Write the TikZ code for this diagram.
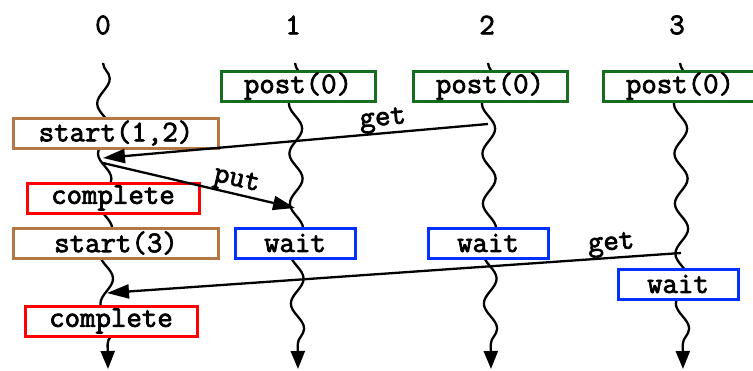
\documentclass[tikz,border=0pt]{standalone}
\usepackage{fontspec}
\setmonofont{Latin Modern Mono}[FakeBold=2.5]
\usetikzlibrary{decorations.pathmorphing,arrows.meta}
\begin{document}
\begin{tikzpicture}[x=1pt,y=-1pt,
  lbl/.style={font=\ttfamily\bfseries\fontsize{30}{30}\selectfont},
  box/.style={lbl,draw,line width=3pt,fill=white,minimum height=30pt,inner sep=0pt},
  grn/.style={box,draw={rgb,255:red,20;green,110;blue,30},minimum width=154pt},
  brn/.style={box,draw={rgb,255:red,180;green,120;blue,70},minimum width=205pt},
  redb/.style={box,draw=red,minimum width=172pt},
  blu/.style={box,draw={rgb,255:red,0;green,50;blue,255},minimum width=120pt},
  wavy/.style={line width=2.3pt,decorate,decoration={snake,amplitude=6.5pt,segment length=50pt,post length=16pt},
    -{Triangle[width=14pt,length=18pt]}},
  msg/.style={line width=2.3pt,-{Triangle[width=14pt,length=22pt]}}]
\useasboundingbox (0,0) rectangle (753,370);
% headers
\node[lbl] (h0) at (103,25) {0};
\node[lbl] (h1) at (293,25) {1};
\node[lbl] (h2) at (487,25) {2};
\node[lbl] (h3) at (677,25) {3};
% line ends
\coordinate (t0) at (103,63); \coordinate (b0) at (108,369);
\coordinate (t1) at (295,63); \coordinate (b1) at (298,369);
\coordinate (t2) at (488,63); \coordinate (b2) at (491,369);
\coordinate (t3) at (680,63); \coordinate (b3) at (683,369);
\draw[wavy] (t0) -- (b0);
\draw[wavy] (t1) -- (b1);
\draw[wavy] (t2) -- (b2);
\draw[wavy] (t3) -- (b3);
% boxes
\node[grn] (p1) at (298,86) {post(0)};
\node[grn] (p2) at (490,86) {post(0)};
\node[grn] (p3) at (680,86) {post(0)};
\node[brn] (s12) at (116,133) {start(1,2)};
\node[redb] (c1) at (113,198) {complete};
\node[brn] (s3) at (116,243) {start(3)};
\node[blu] (w1) at (295,243) {wait};
\node[blu] (w2) at (488,243) {wait};
\node[blu] (w3) at (678,284) {wait};
\node[redb] (c2) at (111,321) {complete};
% messages
\coordinate (g1s) at (488,124); \coordinate (g1e) at (103,158);
\coordinate (pus) at (103,163); \coordinate (pue) at (295,208);
\coordinate (g2s) at (681,253); \coordinate (g2e) at (107,293);
\draw[msg] (g1s) -- node[lbl,sloped,above,pos=0.27,inner sep=0pt] {get} (g1e);
\draw[msg] (pus) -- node[lbl,sloped,above,pos=0.68,inner sep=0pt] {put} (pue);
\draw[msg] (g2s) -- node[lbl,sloped,above,pos=0.12,inner sep=0pt] {get} (g2e);
\end{tikzpicture}
\end{document}
